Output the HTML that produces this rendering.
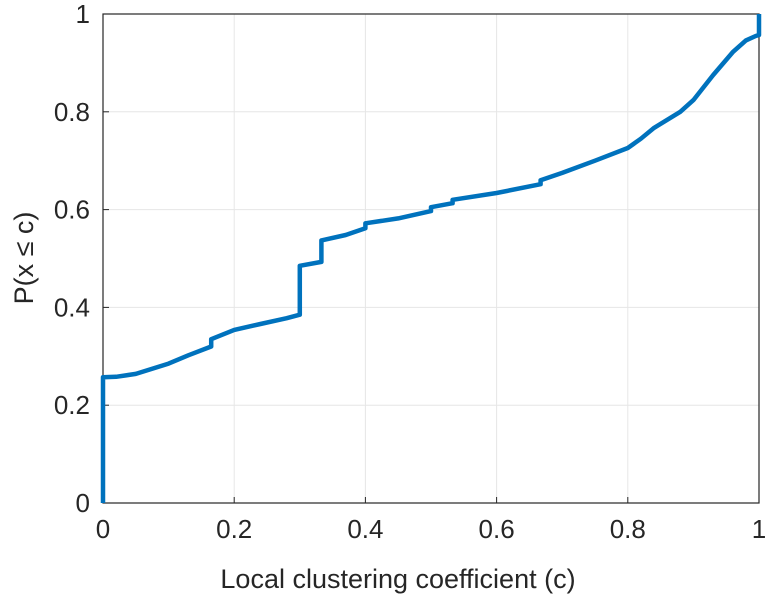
<!DOCTYPE html>
<html><head><meta charset="utf-8"><style>
body{margin:0;background:#fff;}
svg text{font-family:"Liberation Sans",sans-serif;fill:#262626;}
</style></head><body>
<svg id="chart" width="766" height="600">
<g id="grid"></g>
<g id="axes"></g>
<path id="line" fill="none" stroke="#0072bd" stroke-width="4.5" stroke-linejoin="round"/>
<text x="398" y="588" font-size="27" text-anchor="middle">Local clustering coefficient (c)</text>
<text transform="translate(33,258) rotate(-90)" font-size="27" text-anchor="middle">P(x ≤ c)</text>
</svg>
<script>
const xTicks=[0,0.2,0.4,0.6,0.8,1];
const yTicks=[0,0.2,0.4,0.6,0.8,1];
const xLabels=["0","0.2","0.4","0.6","0.8","1"];
const yLabels=["0","0.2","0.4","0.6","0.8","1"];
const cVals=[0,0,0.02,0.05,0.1,0.13,0.165,0.165,0.2,0.24,0.28,0.3,0.3,0.333,0.333,0.37,0.4,0.4,0.45,0.5,0.5,0.533,0.533,0.6,0.667,0.667,0.7,0.75,0.8,0.82,0.84,0.88,0.9,0.93,0.96,0.98,0.995,1,1];
const pVals=[0,0.257,0.258,0.264,0.285,0.302,0.32,0.335,0.354,0.366,0.378,0.385,0.485,0.493,0.537,0.548,0.562,0.572,0.582,0.597,0.605,0.613,0.62,0.634,0.652,0.66,0.675,0.70,0.726,0.745,0.767,0.80,0.824,0.875,0.922,0.946,0.955,0.957,1];
const X0=103,X1=759,Y0=503,Y1=14;
const sx=v=>X0+(X1-X0)*v, sy=v=>Y0-(Y0-Y1)*v;
const NS="http://www.w3.org/2000/svg";
const grid=document.getElementById('grid'),axes=document.getElementById('axes');
function mk(tag,at,parent){const e=document.createElementNS(NS,tag);for(const k in at)e.setAttribute(k,at[k]);parent.appendChild(e);return e;}
xTicks.forEach((t,i)=>{
 const g=mk('line',{x1:sx(t),x2:sx(t),y1:Y0,y2:Y1,stroke:'#e6e6e6','stroke-width':1},grid);
 
 
 const tk=mk('line',{x1:sx(t),x2:sx(t),y1:Y0,y2:Y0-6,stroke:'#262626'},axes);
 
 
 const tx=mk('text',{x:sx(t),y:538,'font-size':26,'text-anchor':'middle'},axes);
 tx.textContent=xLabels[i];
 
 
});
yTicks.forEach((t,i)=>{
 const g=mk('line',{x1:X0,x2:X1,y1:sy(t),y2:sy(t),stroke:'#e6e6e6','stroke-width':1},grid);
 
 
 const tk=mk('line',{x1:X0,x2:X0+6,y1:sy(t),y2:sy(t),stroke:'#262626'},axes);
 
 
 const tx=mk('text',{x:90,y:sy(t)+9,'font-size':26,'text-anchor':'end'},axes);
 tx.textContent=yLabels[i];
 
 
});
const box=mk('rect',{x:X0,y:Y1,width:X1-X0,height:Y0-Y1,fill:'none',stroke:'#262626','stroke-width':1.2},axes);


document.getElementById('line').setAttribute('d',cVals.map((c,i)=>(i?'L':'M')+sx(c).toFixed(1)+','+sy(pVals[i]).toFixed(1)).join(''));
</script>
</body></html>
